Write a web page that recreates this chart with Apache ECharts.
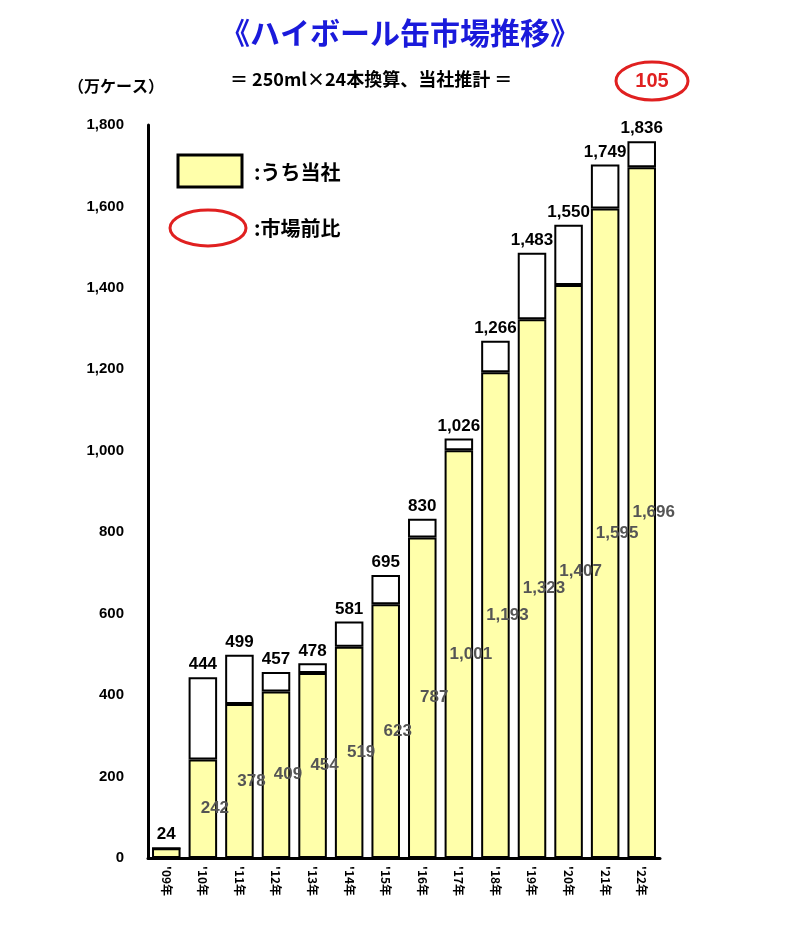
<!DOCTYPE html>
<html><head><meta charset="utf-8">
<script src="https://cdn.jsdelivr.net/npm/echarts@6/dist/echarts.min.js"></script>
<style>html,body{margin:0;padding:0;background:#fff}#c{width:800px;height:939px}</style>
</head><body><div id="c"></div>
<script>
const categories = ["'09年","'10年","'11年","'12年","'13年","'14年","'15年","'16年","'17年","'18年","'19年","'20年","'21年","'22年"];
const companyValues = [24,242,378,409,454,519,623,787,1001,1193,1323,1407,1595,1696];
const companyLabels = ["","242","378","409","454","519","623","787","1,001","1,193","1,323","1,407","1,595","1,696"];
const totalDrawn = [24,444,499,457,478,581,695,833,1030,1270,1486,1555,1703,1760];
const totalLabels = ["24","444","499","457","478","581","695","830","1,026","1,266","1,483","1,550","1,749","1,836"];
const yTicks = [0,200,400,600,800,1000,1200,1400,1600,1800];

const chart = echarts.init(document.getElementById('c'));
const rest = totalDrawn.map((t,i)=>Math.max(t-companyValues[i],0));
const F = '"Noto Sans CJK JP","Noto Sans",sans-serif';
chart.setOption({
  animation:false,
  grid:{left:148,right:140,top:125,bottom:81},
  xAxis:{type:'category',data:categories,
    axisLine:{lineStyle:{color:'#000',width:3}},axisTick:{show:false},
    axisLabel:{rotate:-90,fontSize:12,fontWeight:'bold',color:'#000',fontFamily:F,margin:8}},
  yAxis:{type:'value',min:0,max:1800,interval:200,splitLine:{show:false},
    axisLine:{show:true,lineStyle:{color:'#000',width:3}},axisTick:{show:false},
    axisLabel:{fontSize:15,fontWeight:'bold',color:'#000',fontFamily:'Liberation Sans',margin:24,
      formatter:v=>yTicks.includes(v)?v.toLocaleString('en-US'):''}},
  series:[
    {type:'bar',stack:'s',data:companyValues,barWidth:'78%',
     itemStyle:{color:'#ffffaa',borderColor:'#000',borderWidth:2},
     label:{show:true,position:'inside',offset:[12,0],fontSize:17,fontWeight:'bold',color:'#555',
       fontFamily:'Liberation Sans',formatter:p=>companyLabels[p.dataIndex]}},
    {type:'bar',stack:'s',data:rest,
     itemStyle:{color:'#fff',borderColor:'#000',borderWidth:2},
     label:{show:true,position:'top',distance:4,fontSize:17,fontWeight:'bold',color:'#000',
       fontFamily:'Liberation Sans',formatter:p=>totalLabels[p.dataIndex]}}
  ],
  graphic:[
    {type:'text',left:'center',top:18,style:{text:'《ハイボール缶市場推移》',font:'bold 30px '+F,fill:'#1a1adb'}},
    {type:'text',left:230,top:70,style:{text:'＝ 250ml×24本換算、当社推計 ＝',font:'bold 18px '+F,fill:'#000'}},
    {type:'text',left:68,top:78,style:{text:'（万ケース）',font:'bold 16px '+F,fill:'#000'}},
    {type:'ellipse',shape:{cx:652,cy:81,rx:36,ry:19},style:{fill:'#fff',stroke:'#e02020',lineWidth:3}},
    {type:'text',x:652,y:81,style:{text:'105',font:'bold 20px Liberation Sans',fill:'#e02020',align:'center',verticalAlign:'middle'}},
    {type:'rect',shape:{x:178,y:155,width:64,height:32},style:{fill:'#ffffaa',stroke:'#000',lineWidth:3}},
    {type:'text',x:254,y:172,style:{text:':うち当社',font:'bold 20px '+F,fill:'#000',verticalAlign:'middle'}},
    {type:'ellipse',shape:{cx:208,cy:228,rx:38,ry:18},style:{fill:'#fff',stroke:'#e02020',lineWidth:3}},
    {type:'text',x:254,y:228,style:{text:':市場前比',font:'bold 20px '+F,fill:'#000',verticalAlign:'middle'}}
  ]
});
</script></body></html>
